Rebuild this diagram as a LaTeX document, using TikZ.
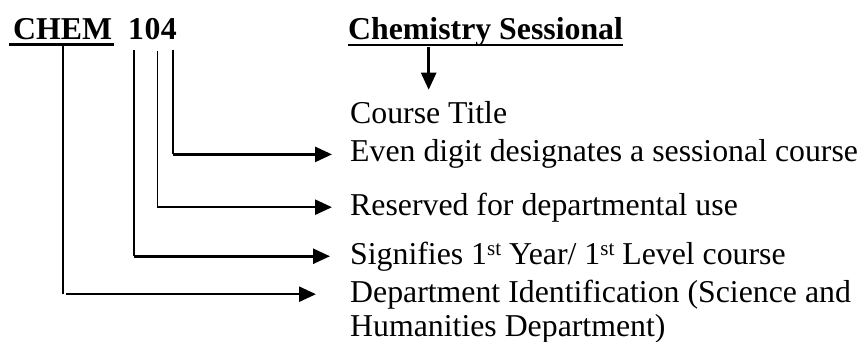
\documentclass[tikz,border=0pt]{standalone}
\usepackage{fontspec}
\setmainfont{Liberation Serif}
\usetikzlibrary{arrows.meta}
\newcommand{\ordsup}[1]{\raisebox{9pt}{\fontsize{21}{21}\selectfont #1}}
\begin{document}
\begin{tikzpicture}[x=1pt,y=-1pt,
  txt/.style={anchor=base west,inner sep=0pt,font=\fontsize{31.8}{34}\selectfont},
  head/.style={txt,font=\fontsize{31.8}{34}\selectfont\bfseries},
  uline/.style={line width=2.6pt},
  stem/.style={line width=1.8pt},
  arr/.style={line width=2.6pt,-{Triangle[length=17pt,width=15pt]}}]
\useasboundingbox (0,0) rectangle (860,342);

% course code and title
\node[head] (chem) at (13,40) {CHEM};
\node[head] (d1) at (128,40) {1};
\node[head,anchor=base west] (d0) at (d1.base east) {0};
\node[head,anchor=base west] (d4) at (d0.base east) {4};
\node[head] (cs) at (348,40) {Chemistry Sessional};
\draw[uline] ([xshift=-4pt,yshift=-4.5pt]chem.base west) -- ([xshift=2pt,yshift=-4.5pt]chem.base east);
\draw[uline] ([yshift=-5pt]cs.base west) -- ([yshift=-5pt]cs.base east);

% explanations
\node[txt] (ct) at (350,124) {Course Title};
\node[txt] (even) at (350,162) {Even digit designates a sessional course};
\node[txt] (res) at (350,215) {Reserved for departmental use};
\node[txt] (sig) at (350,264) {Signifies 1\ordsup{st} Year/ 1\ordsup{st} Level course};
\node[txt] (dep1) at (350,302) {Department Identification (Science and};
\node[txt] (dep2) at (350,336) {Humanities Department)};

% connectors
\draw[arr,shorten >=12pt] (ct.north |- cs.south) -- (ct.north);
\draw[stem] ([xshift=4pt,yshift=-10pt]d4.south) -- ([xshift=4pt]d4.south |- even.west);
\draw[arr,shorten >=18pt] ([xshift=4pt]d4.south |- even.west) -- (even.west);
\draw[stem] ([xshift=5pt,yshift=-10pt]d0.south) -- ([xshift=5pt]d0.south |- res.west);
\draw[arr,shorten >=18pt] ([xshift=5pt]d0.south |- res.west) -- (res.west);
\draw[stem] ([xshift=-2pt,yshift=-10pt]d1.south) -- ([xshift=-2pt]d1.south |- sig.west);
\draw[arr,shorten >=20pt] ([xshift=-2pt]d1.south |- sig.west) -- (sig.west);
\draw[stem] ([yshift=-5pt]chem.south) -- (chem.south |- dep1.west);
\draw[arr,shorten >=34pt] ([xshift=3pt]chem.south |- dep1.west) -- (dep1.west);
\end{tikzpicture}
\end{document}
